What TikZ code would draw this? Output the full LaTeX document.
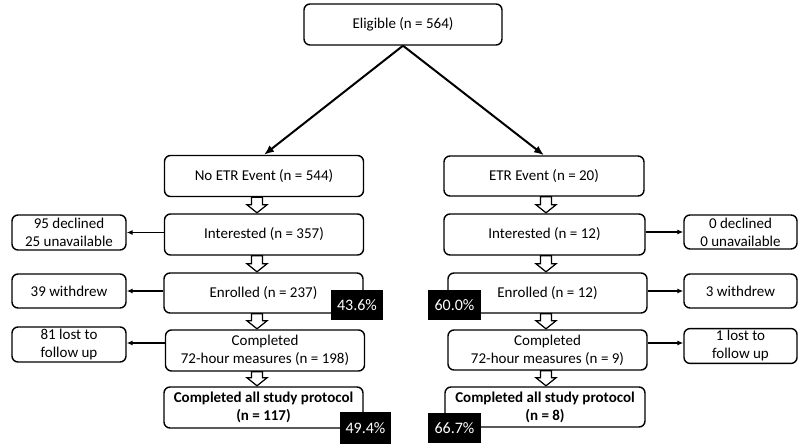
\documentclass[tikz,border=0pt]{standalone}
\usepackage{fontspec}
\setmainfont{Carlito}
\usetikzlibrary{calc,arrows.meta}
\tikzset{
  box/.style={draw, line width=1.4pt, rounded corners=6pt, align=center, inner sep=2pt,
    font=\fontsize{15}{18}\selectfont},
  mainbox/.style={box, minimum width=199pt, minimum height=41pt},
  sidebox/.style={box, minimum width=114pt, minimum height=35pt},
  pct/.style={fill=black, text=white, minimum width=52pt, minimum height=30pt, inner sep=0pt,
    font=\fontsize{16}{18}\selectfont},
  hollow/.style={draw, line width=1.2pt, fill=white, line join=miter},
  sidearrow/.style={line width=1.6pt, -{Latex[length=6pt,width=5pt]}},
  diagarrow/.style={line width=2pt, -{Latex[length=10pt,width=8pt]}}
}
\newcommand\hollowarrow[3]{%
  \draw[hollow] let \p1=(#1.south), \p2=(#2.north) in
    ({#3pt-5.5pt},\y1) -- ({#3pt+5.5pt},\y1) -- ({#3pt+5.5pt},{\y2+8.5pt}) --
    ({#3pt+10pt},{\y2+8.5pt}) -- ({#3pt},{\y2+0.5pt}) -- ({#3pt-10pt},{\y2+8.5pt}) --
    ({#3pt-5.5pt},{\y2+8.5pt}) -- cycle;}
\begin{document}
\begin{tikzpicture}[x=1pt,y=-1pt]
\fill[white] (0,0) rectangle (800,446);
\useasboundingbox (0,0) rectangle (800,446);

\node[box, minimum width=198pt, minimum height=41pt] (elig) at (403,24.5) {Eligible (n = 564)};

% left column
\node[mainbox] (noetr) at (264,176) {No ETR Event (n = 544)};
\node[mainbox] (int1) at (264,234.5) {Interested (n = 357)};
\node[mainbox, minimum height=40pt] (enr1) at (263.5,293) {Enrolled (n = 237)};
\node[mainbox] (comp1) at (265,350.5) {Completed\\72-hour measures (n = 198)};
\node[mainbox] (all1) at (263.5,407.5) {\bfseries Completed all study protocol\\\bfseries (n = 117)};

% right column
\node[mainbox, minimum width=200pt, minimum height=40pt] (etr) at (544,176) {ETR Event (n = 20)};
\node[mainbox, minimum width=201pt] (int2) at (544.5,234.5) {Interested (n = 12)};
\node[mainbox, minimum height=40pt] (enr2) at (547.5,293) {Enrolled (n = 12)};
\node[mainbox, minimum height=40pt] (comp2) at (547.5,350) {Completed\\72-hour measures (n = 9)};
\node[mainbox, minimum width=200pt, minimum height=40pt] (all2) at (545,407) {\bfseries Completed all study protocol\\\bfseries (n = 8)};

% side boxes left
\node[sidebox] (decl1) at (69,232.5) {95 declined\\25 unavailable};
\node[sidebox, minimum height=34pt] (wd1) at (69,291) {39 withdrew};
\node[sidebox] (lost1) at (69,344.5) {81 lost to\\follow up};

% side boxes right
\node[sidebox, minimum width=113pt, minimum height=34pt] (decl2) at (740.5,232) {0 declined\\0 unavailable};
\node[sidebox, minimum width=113pt, minimum height=34pt] (wd2) at (740.5,291) {3 withdrew};
\node[sidebox, minimum width=113pt, minimum height=34pt] (lost2) at (740.5,346) {1 lost to\\follow up};

% percentage tags
\node[pct] (p1) at (357,305) {43.6\%};
\node[pct, minimum width=51pt, minimum height=32pt] (p2) at (365.5,428) {49.4\%};
\node[pct, minimum width=53pt] (p3) at (454.5,305) {60.0\%};
\node[pct, minimum width=53pt] (p4) at (454.5,428) {66.7\%};

% diagonal arrows
\draw[diagarrow] (elig.south) -- (noetr.north);
\draw[diagarrow] (elig.south) -- (etr.north);

% hollow arrows
\hollowarrow{noetr}{int1}{257}
\hollowarrow{int1}{enr1}{257}
\hollowarrow{enr1}{comp1}{257}
\hollowarrow{comp1}{all1}{257}
\hollowarrow{etr}{int2}{546}
\hollowarrow{int2}{enr2}{546}
\hollowarrow{enr2}{comp2}{546}
\hollowarrow{comp2}{all2}{546}

% side arrows
\draw[sidearrow] (int1.west |- decl1.east) -- (decl1.east);
\draw[sidearrow] (enr1.west |- wd1.east) -- (wd1.east);
\draw[sidearrow] (comp1.west |- 0,343) -- (lost1.east |- 0,343);
\draw[sidearrow] (int2.east |- decl2.west) -- (decl2.west);
\draw[sidearrow] (enr2.east |- wd2.west) -- (wd2.west);
\draw[sidearrow] (comp2.east |- 0,343) -- (lost2.west |- 0,343);
\end{tikzpicture}
\end{document}
